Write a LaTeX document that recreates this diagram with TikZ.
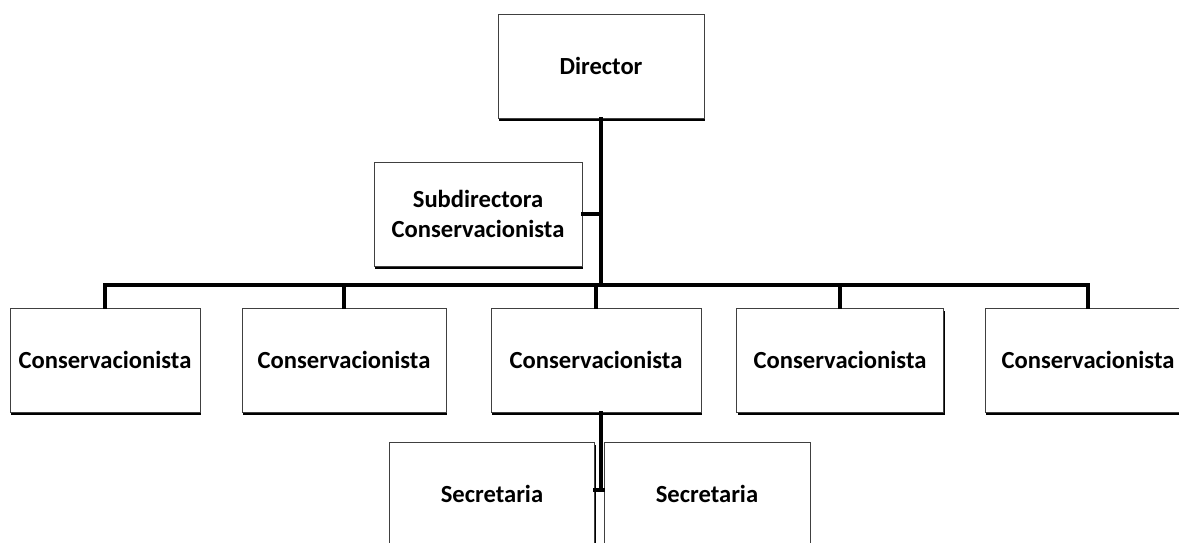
\documentclass[tikz,border=0pt]{standalone}
\usepackage{fontspec}
\setmainfont{Carlito}
\usepackage{tikz}
\usetikzlibrary{shadows}

\begin{document}
\begin{tikzpicture}[
  x=0.02cm, y=-0.02cm,
  every node/.style={font=\bfseries\fontsize{14}{17}\selectfont},
  post/.style={draw=black!75,line width=0.5pt,fill=white,align=center,
    minimum width=#1*0.02cm,minimum height=104*0.02cm,inner sep=0pt,
    drop shadow={shadow xshift=0.6pt,shadow yshift=-1.6pt,opacity=1,fill=black}},
  post/.default=206,
  link/.style={line width=1.8pt,line cap=rect}
]
\useasboundingbox (0,0) rectangle (1179,543);

% top of the chart
\node[post] (dir) at (601,66) {Director};
\node[post=208] (sub) at (478,214) {Subdirectora\\Conservacionista};

% row of conservators
\node[post=190] (c1) at (105,360) {Conservacionista};
\node[post=204] (c2) at (344,360) {Conservacionista};
\node[post=210] (c3) at (596,360) {Conservacionista};
\node[post=207] (c4) at (840,360) {Conservacionista};
\node[post=206] (c5) at (1088,360) {Conservacionista};

% secretaries
\node[post=205] (s1) at (492,494) {Secretaria};
\node[post=206] (s2) at (707,494) {Secretaria};

\coordinate (hub) at (601,285);
\coordinate (secjoin) at (601,490);

\draw[link] (dir.south) -- (dir.south |- hub);
\draw[link] (sub.east) -- (sub.east -| dir.south);
\draw[link] (c1.north |- hub) -- (c5.north |- hub);
\foreach \n in {c1,c2,c3,c4,c5}
  \draw[link] (\n.north |- hub) -- (\n.north);
\draw[link] (c3.south -| dir.south) -- (secjoin);
\draw[link] (s1.east |- secjoin) -- (s2.west |- secjoin);

\end{tikzpicture}
\end{document}
